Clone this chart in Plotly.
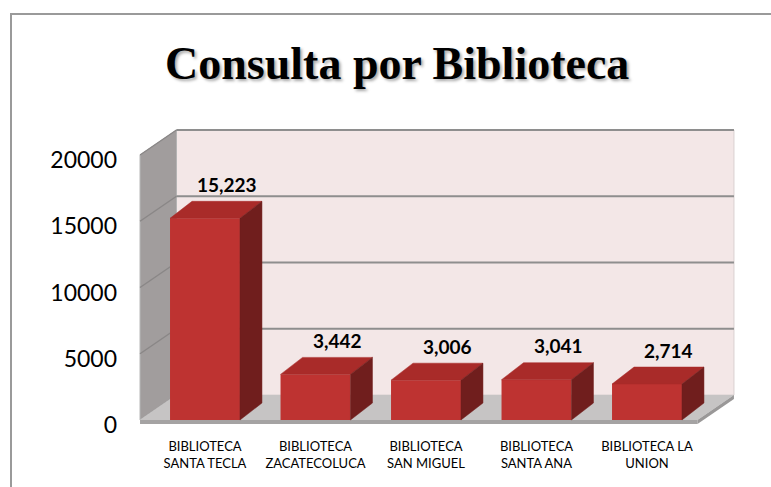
import plotly.graph_objects as go

# ---- data ----
categories = ["BIBLIOTECA<br>SANTA TECLA", "BIBLIOTECA<br>ZACATECOLUCA", "BIBLIOTECA<br>SAN MIGUEL",
              "BIBLIOTECA<br>SANTA ANA", "BIBLIOTECA LA<br>UNION"]
values = [15223, 3442, 3006, 3041, 2714]
y_ticks = [0, 5000, 10000, 15000, 20000]
title_text = "Consulta por Biblioteca"

# ---- geometry (in axis units) ----
xs = list(range(len(categories)))
bar_w = 0.633
dxB, dyB = 0.199, 1283          # bar depth offset
xF = -0.588                     # front edge of side wall
dxW, dyW = 0.330, 1887          # wall depth offset
xFR = 4.457                     # front right edge of floor
slab = 302
ymax = 20000

fig = go.Figure()

shapes = []
def poly(pts, fill, line="rgba(0,0,0,0)", lw=0, layer="below"):
    p = "M " + " L ".join(f"{x},{y}" for x, y in pts) + " Z"
    shapes.append(dict(type="path", path=p, xref="x", yref="y", fillcolor=fill,
                       line=dict(color=line, width=lw), layer=layer))

# back wall
poly([(xF + dxW, dyW), (xFR + dxW, dyW), (xFR + dxW, ymax + dyW), (xF + dxW, ymax + dyW)],
     "#F3E7E7", "#D9D0D0", 1)
# side wall
poly([(xF, 0), (xF + dxW, dyW), (xF + dxW, ymax + dyW), (xF, ymax)], "#A19D9D", "#B5B5B5", 1)
# floor top
poly([(xF, 0), (xFR, 0), (xFR + dxW, dyW), (xF + dxW, dyW)], "#C6C4C4")
# floor slab front and right
poly([(xF, -slab), (xFR, -slab), (xFR, 0), (xF, 0)], "#A5A3A3")
poly([(xFR, -slab), (xFR + dxW, dyW - slab), (xFR + dxW, dyW), (xFR, 0)], "#9A9898")

# gridlines
for v in y_ticks[1:]:
    shapes.append(dict(type="line", xref="x", yref="y", x0=xF + dxW, x1=xFR + dxW, y0=v + dyW, y1=v + dyW,
                       line=dict(color="#8E8E8E", width=2), layer="below"))
    shapes.append(dict(type="line", xref="x", yref="y", x0=xF, x1=xF + dxW, y0=v, y1=v + dyW,
                       line=dict(color="#8A8787", width=1.5), layer="below"))

# chart border
shapes.append(dict(type="rect", xref="paper", yref="paper", x0=-0.1935, x1=1.3, y0=-0.6, y1=1.342,
                   line=dict(color="#9A9A9A", width=2), fillcolor="rgba(0,0,0,0)"))

# front faces
fig.add_trace(go.Bar(x=xs, y=values, width=bar_w, marker=dict(color="#BE3331", line=dict(width=0)),
                     hoverinfo="skip"))

# top faces and side faces
tx, ty, sx, sy = [], [], [], []
for x, v in zip(xs, values):
    l, r = x - bar_w / 2, x + bar_w / 2
    tx += [l, r, r + dxB, l + dxB, l, None]
    ty += [v, v, v + dyB, v + dyB, v, None]
    sx += [r, r + dxB, r + dxB, r, r, None]
    sy += [0, dyB, v + dyB, v, 0, None]
fig.add_trace(go.Scatter(x=tx, y=ty, fill="toself", fillcolor="#A92B29", mode="lines",
                         line=dict(width=0.5, color="#A92B29"), hoverinfo="skip"))
fig.add_trace(go.Scatter(x=sx, y=sy, fill="toself", fillcolor="#701E1D", mode="lines",
                         line=dict(width=0.5, color="#701E1D"), hoverinfo="skip"))

annotations = []
for x, v in zip(xs, values):
    annotations.append(dict(x=x + dxB, y=v + dyB, xref="x", yref="y", text=f"<b>{v:,}</b>", showarrow=False,
                            yshift=17, font=dict(family="Lato", size=19, color="#000000")))

L, R, T, B = 130, 745, 120, 430
def px_to_paper(px, py):
    return (px - L) / (R - L), (B - py) / (B - T)

# title (with soft shadow)
ax, ay = px_to_paper(397, 64)
annotations.append(dict(x=ax, y=ay, xref="paper", yref="paper", xanchor="center", yanchor="middle",
                        text=f"<b>{title_text}</b>", showarrow=False,
                        font=dict(family="Liberation Serif", size=46, color="#000000",
                                  shadow="2px 2px 3px rgba(0,0,0,0.35)")))

fig.update_layout(
    width=771, height=487,
    margin=dict(l=L, r=771 - R, t=T, b=487 - B, pad=0),
    paper_bgcolor="white", plot_bgcolor="white",
    showlegend=False,
    shapes=shapes,
    annotations=annotations,
    xaxis=dict(range=[(130 - 205) / 110.5, (745 - 205) / 110.5], tickvals=xs, ticktext=categories,
               showgrid=False, zeroline=False, showline=False, ticks="",
               tickfont=dict(family="Lato", size=13, color="#000000"), ticklabelstandoff=7),
    yaxis=dict(range=[-(B - 420) / 0.01325, (420 - T) / 0.01325], tickvals=y_ticks,
               ticktext=[str(t) for t in y_ticks], showgrid=False, zeroline=False, showline=False,
               ticks="", tickfont=dict(family="Lato", size=23, color="#000000"),
               ticklabelstandoff=12, ticklabelshift=5),
)

fig.write_html("out.html", config={"displayModeBar": False},
               post_script="document.body.style.margin='0';document.body.style.overflow='hidden';")
